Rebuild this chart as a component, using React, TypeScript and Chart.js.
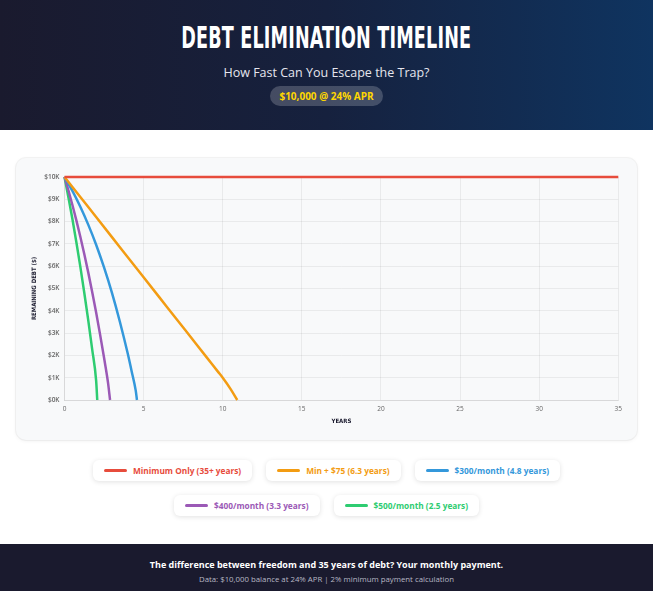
import { useEffect, useRef } from 'react';
import { Chart, registerables } from 'chart.js';

Chart.register(...registerables);

// years on x, remaining balance ($) on y
const minOnlyYears = [0, 5, 10, 15, 20, 25, 30, 35];
const minOnlyDebt = [10000, 10000, 10000, 10000, 10000, 10000, 10000, 10000];

const min75Years = [0, 1, 2, 3, 4, 5, 6, 7, 8, 9, 9.72, 10, 10.5, 10.92];
const min75Debt = [10000, 9100, 8200, 7300, 6400, 5500, 4600, 3700, 2800, 1900, 1250, 1000, 490, 0];

const pay300Years = [0, 0.5, 1, 1.5, 2, 2.5, 3, 3.5, 4, 4.25, 4.5, 4.58];
const pay300Debt = [10000, 9370, 8660, 7860, 6960, 5940, 4800, 3510, 2070, 1270, 430, 0];

const pay400Years = [0, 0.25, 0.5, 0.75, 1, 1.25, 1.5, 1.75, 2, 2.25, 2.5, 2.75, 2.88];
const pay400Debt = [10000, 9390, 8740, 8050, 7320, 6540, 5720, 4840, 3920, 2930, 1890, 780, 0];

const pay500Years = [0, 0.25, 0.5, 0.75, 1, 1.25, 1.5, 1.75, 2, 2.07];
const pay500Debt = [10000, 9080, 8110, 7070, 5980, 4810, 3580, 2270, 870, 0];

const seriesLabels = [
  'Minimum Only (35+ years)',
  'Min + $75 (6.3 years)',
  '$300/month (4.8 years)',
  '$400/month (3.3 years)',
  '$500/month (2.5 years)',
];
const seriesColors = ['#e74c3c', '#f39c12', '#3498db', '#9b59b6', '#2ecc71'];

const yTicks = [0, 1000, 2000, 3000, 4000, 5000, 6000, 7000, 8000, 9000, 10000];

const zip = (xs: number[], ys: number[]) => xs.map((x, i) => ({ x, y: ys[i] }));

const narrow = '"Liberation Sans Narrow", "DejaVu Sans Condensed", sans-serif';
const body = '"Open Sans", "Noto Sans", sans-serif';

function DebtChart() {
  const ref = useRef<HTMLCanvasElement>(null);

  useEffect(() => {
    if (!ref.current) return;
    const series = [
      zip(minOnlyYears, minOnlyDebt),
      zip(min75Years, min75Debt),
      zip(pay300Years, pay300Debt),
      zip(pay400Years, pay400Debt),
      zip(pay500Years, pay500Debt),
    ];
    const chart = new Chart(ref.current, {
      type: 'line',
      data: {
        datasets: series.map((data, i) => ({
          label: seriesLabels[i],
          data,
          borderColor: seriesColors[i],
          backgroundColor: seriesColors[i],
          borderWidth: 2.5,
          pointRadius: 0,
          clip: 4,
          cubicInterpolationMode: 'monotone' as const,
          fill: false,
        })),
      },
      options: {
        animation: false,
        responsive: true,
        maintainAspectRatio: false,
        layout: { padding: { top: 3, right: 2, bottom: 0, left: 0 } },
        plugins: { legend: { display: false }, tooltip: { enabled: false } },
        scales: {
          x: {
            type: 'linear',
            min: 0,
            max: 35,
            ticks: { stepSize: 5, padding: 5, color: '#666', font: { size: 6.5, family: body } },
            grid: { color: 'rgba(0,0,0,0.06)', drawTicks: false },
            border: { color: 'rgba(0,0,0,0.08)' },
            title: {
              display: true,
              text: 'YEARS',
              color: '#1a1a2e',
              font: { size: 6, weight: 'bold', family: narrow },
              padding: { top: 0, bottom: 0 },
            },
          },
          y: {
            min: 0,
            max: 10000,
            afterBuildTicks: (axis) => {
              axis.ticks = yTicks.map((value) => ({ value }));
            },
            ticks: {
              padding: 5,
              color: '#666',
              font: { size: 6.5, weight: 600, family: body },
              callback: (v) => '$' + Number(v) / 1000 + 'K',
            },
            grid: { color: 'rgba(0,0,0,0.06)', drawTicks: false },
            border: { color: 'rgba(0,0,0,0.08)' },
            title: {
              display: true,
              text: 'REMAINING DEBT ($)',
              color: '#1a1a2e',
              font: { size: 6, weight: 'bold', family: narrow },
              padding: { top: 1, bottom: 1 },
            },
          },
        },
      },
    });
    return () => chart.destroy();
  }, []);

  return <canvas ref={ref} />;
}

function LegendPill({ label, color }: { label: string; color: string }) {
  return (
    <div
      style={{
        display: 'flex',
        alignItems: 'center',
        height: 21,
        padding: '0 11px',
        background: '#fff',
        borderRadius: 6,
        boxShadow: '0 1px 5px rgba(0,0,0,0.12)',
        margin: '0 7px',
      }}
    >
      <span style={{ width: 23, height: 3, background: color, borderRadius: 2, marginRight: 6 }} />
      <span style={{ color, fontWeight: 700, fontSize: 8.3, fontFamily: body }}>{label}</span>
    </div>
  );
}

export default function App() {
  useEffect(() => {
    document.body.style.margin = '0';
  }, []);

  return (
    <div style={{ width: 653, height: 591, position: 'relative', background: '#fff', fontFamily: body, overflow: 'hidden' }}>
      <div
        style={{
          position: 'absolute',
          left: 0,
          top: 0,
          width: 653,
          height: 130,
          background: 'linear-gradient(90deg, #1a1a2e 0%, #16213e 50%, #0f3460 100%)',
          textAlign: 'center',
        }}
      >
        <div
          style={{
            position: 'absolute',
            top: 20,
            left: 0,
            width: 653,
            color: '#fff',
            fontFamily: narrow,
            fontWeight: 700,
            fontSize: 31,
            lineHeight: '34px',
            letterSpacing: 0.3,
          }}
        >
          <span style={{ display: 'inline-block', transform: 'scaleX(0.63)' }}>DEBT ELIMINATION TIMELINE</span>
        </div>
        <div style={{ position: 'absolute', top: 64, left: 0, width: 653, color: '#e6e6ee', fontSize: 12.5 }}>
          How Fast Can You Escape the Trap?
        </div>
        <div
          style={{
            position: 'absolute',
            top: 86,
            left: 270,
            width: 113,
            height: 20,
            borderRadius: 10,
            background: 'rgba(255,255,255,0.2)',
            color: '#ffd700',
            fontWeight: 700,
            fontSize: 10,
            lineHeight: '20px',
          }}
        >
          $10,000 @ 24% APR
        </div>
      </div>

      <div
        style={{
          position: 'absolute',
          left: 16,
          top: 158,
          width: 621,
          height: 282,
          background: '#f8f9fa',
          borderRadius: 10,
          boxShadow: '0 0 0 1px rgba(0,0,0,0.04), 0 1px 4px rgba(0,0,0,0.06)',
        }}
      >
        <div style={{ position: 'absolute', left: 14, top: 10, width: 597, height: 257 }}>
          <DebtChart />
        </div>
      </div>

      <div style={{ position: 'absolute', top: 460, left: 0, width: 653, display: 'flex', justifyContent: 'center' }}>
        {[0, 1, 2].map((i) => (
          <LegendPill key={i} label={seriesLabels[i]} color={seriesColors[i]} />
        ))}
      </div>
      <div style={{ position: 'absolute', top: 495, left: 0, width: 653, display: 'flex', justifyContent: 'center' }}>
        {[3, 4].map((i) => (
          <LegendPill key={i} label={seriesLabels[i]} color={seriesColors[i]} />
        ))}
      </div>

      <div
        style={{
          position: 'absolute',
          left: 0,
          top: 544,
          width: 653,
          height: 47,
          background: '#1a1a2e',
          textAlign: 'center',
        }}
      >
        <div style={{ marginTop: 14, color: '#fff', fontWeight: 700, fontSize: 9 }}>
          The difference between freedom and 35 years of debt? Your monthly payment.
        </div>
        <div style={{ marginTop: 3, color: '#b8b8c4', fontSize: 7.8 }}>
          Data: $10,000 balance at 24% APR | 2% minimum payment calculation
        </div>
      </div>
    </div>
  );
}
